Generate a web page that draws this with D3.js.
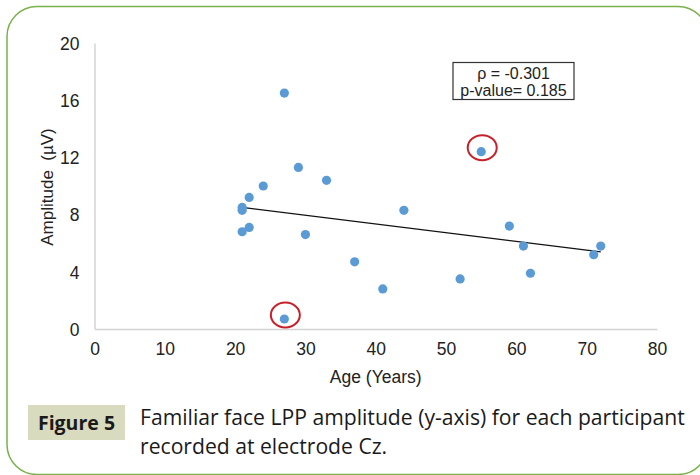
<!DOCTYPE html>
<html>
<head>
<meta charset="utf-8">
<script src="https://cdn.jsdelivr.net/npm/d3@7"></script>
<style>
  html, body { margin: 0; padding: 0; background: #fff; }
  svg { display: block; }
</style>
</head>
<body>
<div id="main"></div>
<script>
// participant data
const ages = [21, 21, 21, 22, 22, 24, 27, 27, 29, 30, 33, 37, 41, 44, 52, 55, 59, 61, 62, 71, 72];
const amplitudes = [8.5, 8.3, 6.8, 9.2, 7.1, 10.0, 16.5, 0.7, 11.3, 6.6, 10.4, 4.7, 2.8, 8.3, 3.5, 12.4, 7.2, 5.8, 3.9, 5.2, 5.8];
// circled outliers (ages, amplitudes)
const outlierAges = [27, 55];
const outlierAmps = [0.7, 12.4];
// fitted trend line end points
const trendAges = [21, 72];
const trendAmps = [8.5, 5.4];
const xTicks = [0, 10, 20, 30, 40, 50, 60, 70, 80];
const yTicks = [0, 4, 8, 12, 16, 20];
const statLines = ['\u03C1 = -0.301', 'p-value= 0.185'];
const captionLines = ['Familiar face LPP amplitude (y-axis) for each participant', 'recorded at electrode Cz.'];

const WIDTH = 700, HEIGHT = 475;
const svg = d3.select('#main').append('svg').attr('width', WIDTH).attr('height', HEIGHT);

// green rounded frame
svg.append('rect')
    .attr('x', 7).attr('y', 6.5).attr('width', 701).attr('height', 468)
    .attr('rx', 30).attr('ry', 30)
    .attr('fill', 'none').attr('stroke', '#79b24a').attr('stroke-width', 1.5);

const scaleX = d3.scaleLinear().domain([0, 80]).range([94.5, 657]);
const scaleY = d3.scaleLinear().domain([0, 20]).range([329, 43]);

const axisX = d3.axisBottom(scaleX).tickValues(xTicks).tickSize(0).tickPadding(14);
const axisY = d3.axisLeft(scaleY).tickValues(yTicks).tickSize(0).tickPadding(15);

const gx = svg.append('g').attr('transform', `translate(0, ${scaleY(0)})`).call(axisX);
const gy = svg.append('g').attr('transform', `translate(${scaleX(0)}, 0)`).call(axisY);
[gx, gy].forEach((g) => {
    g.select('.domain').attr('stroke', '#d4d4d4').attr('stroke-width', 1.5);
    g.selectAll('text').attr('font-family', 'Liberation Sans, Arial, sans-serif').attr('font-size', 17.5).attr('fill', '#222');
});
gy.selectAll('text').attr('dy', '0.36em');

svg.append('text')
    .attr('x', scaleX(40)).attr('y', 383)
    .attr('text-anchor', 'middle')
    .attr('font-family', 'Liberation Sans, Arial, sans-serif').attr('font-size', 17.5).attr('fill', '#222')
    .text('Age (Years)');

svg.append('text')
    .attr('transform', `translate(53, ${scaleY(10) + 1}) rotate(-90)`)
    .attr('text-anchor', 'middle')
    .attr('font-family', 'Liberation Sans, Arial, sans-serif').attr('font-size', 17).attr('fill', '#222')
    .text('Amplitude\u00A0 (\u00B5V)');

// trend line
svg.append('line')
    .attr('x1', scaleX(trendAges[0])).attr('y1', scaleY(trendAmps[0]))
    .attr('x2', scaleX(trendAges[1])).attr('y2', scaleY(trendAmps[1]))
    .attr('stroke', '#111').attr('stroke-width', 1.2);

// points
svg.append('g').selectAll('circle')
    .data(ages.map((a, i) => ({age: a, amp: amplitudes[i]})))
    .enter().append('circle')
    .attr('cx', (d) => scaleX(d.age))
    .attr('cy', (d) => scaleY(d.amp))
    .attr('r', 4.6)
    .attr('fill', '#5b9bd5');

// red rings round outliers
svg.append('g').selectAll('ellipse')
    .data(outlierAges.map((a, i) => ({age: a, amp: outlierAmps[i]})))
    .enter().append('ellipse')
    .attr('cx', (d) => scaleX(d.age) + 1)
    .attr('cy', (d) => scaleY(d.amp) - 4)
    .attr('rx', 14.5).attr('ry', 12.5)
    .attr('fill', 'none').attr('stroke', '#c8202a').attr('stroke-width', 2);

// stats box
const stat = svg.append('g').attr('transform', 'translate(453, 62.5)');
stat.append('rect').attr('width', 121).attr('height', 37)
    .attr('fill', '#fff').attr('stroke', '#333').attr('stroke-width', 1.2);
stat.selectAll('text').data(statLines).enter().append('text')
    .attr('x', 60.5).attr('y', (d, i) => 16 + i * 17)
    .attr('text-anchor', 'middle')
    .attr('font-family', 'Liberation Sans, Arial, sans-serif').attr('font-size', 16).attr('fill', '#222')
    .text((d) => d);

// caption
const cap = svg.append('g');
cap.append('rect').attr('x', 28).attr('y', 405).attr('width', 97).attr('height', 35).attr('fill', '#d9dbbf');
cap.append('text').attr('x', 76.5).attr('y', 430)
    .attr('text-anchor', 'middle')
    .attr('font-family', 'Open Sans, Lato, sans-serif').attr('font-weight', 'bold').attr('font-size', 19.5).attr('fill', '#1a1a1a')
    .text('Figure 5');
const capText = cap.selectAll('text.cap').data(captionLines).enter().append('text').attr('class', 'cap')
    .attr('x', 140).attr('y', (d, i) => 425 + i * 29)
    .attr('font-family', 'Open Sans, Lato, sans-serif').attr('font-size', 20).attr('fill', '#1a1a1a')
    .text((d) => d);
// size the caption so its first line spans the same width as in the figure
const firstLen = capText.node().getComputedTextLength();
capText.attr('font-size', 20 * 545 / firstLen);
</script>
</body>
</html>
